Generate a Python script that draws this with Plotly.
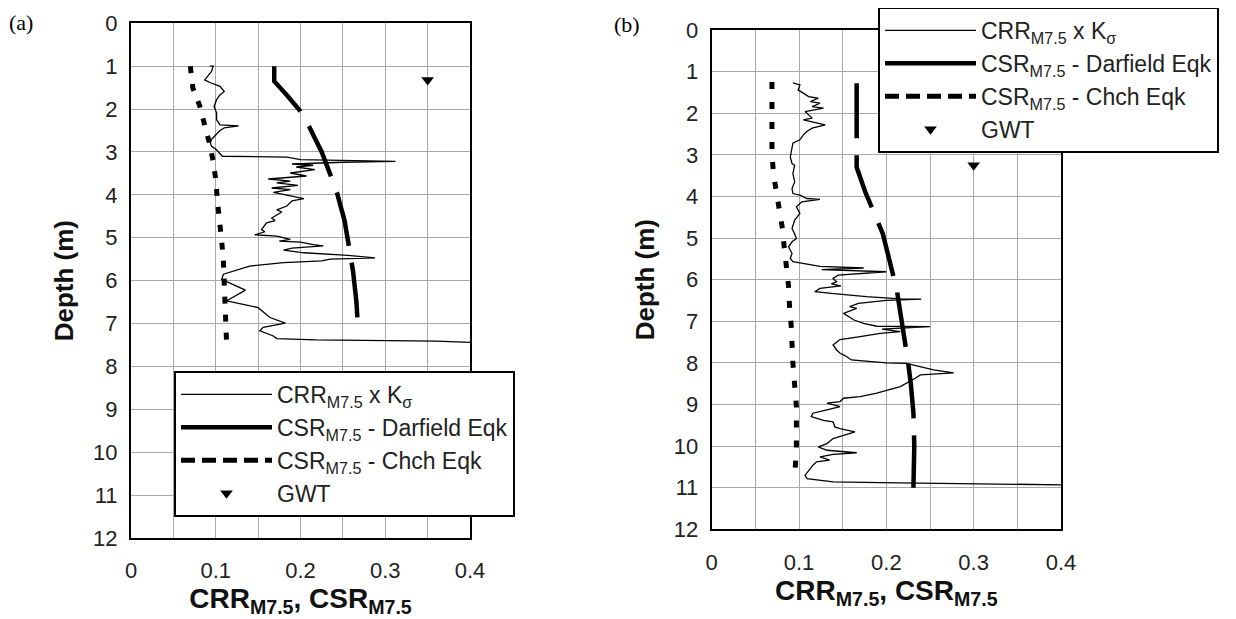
import plotly.graph_objects as go

# ---------------- data ----------------
# Panel (a)
a_crr_x = [0.093, 0.097, 0.095, 0.090, 0.087, 0.093, 0.105, 0.110, 0.105, 0.101, 0.098, 0.101, 0.101, 0.105,
           0.127, 0.110, 0.105, 0.101, 0.097, 0.093, 0.095, 0.101, 0.105, 0.108, 0.184, 0.200, 0.312, 0.250,
           0.190, 0.215, 0.195, 0.217, 0.188, 0.207, 0.162, 0.188, 0.172, 0.197, 0.166, 0.188, 0.168, 0.204,
           0.190, 0.184, 0.172, 0.178, 0.166, 0.170, 0.160, 0.154, 0.158, 0.146, 0.172, 0.188, 0.175, 0.200,
           0.215, 0.227, 0.190, 0.180, 0.204, 0.256, 0.288, 0.235, 0.225, 0.180, 0.140, 0.121, 0.109, 0.107,
           0.135, 0.113, 0.150, 0.164, 0.182, 0.156, 0.152, 0.168, 0.172, 0.218, 0.360, 0.400]
a_crr_d = [1.00, 1.00, 1.12, 1.24, 1.32, 1.38, 1.47, 1.59, 1.67, 1.78, 1.94, 2.09, 2.25, 2.37,
           2.39, 2.44, 2.50, 2.58, 2.67, 2.75, 2.87, 2.95, 3.04, 3.10, 3.12, 3.18, 3.22, 3.24,
           3.28, 3.31, 3.35, 3.41, 3.49, 3.56, 3.63, 3.68, 3.72, 3.78, 3.84, 3.88, 3.94, 4.09,
           4.14, 4.26, 4.35, 4.40, 4.54, 4.60, 4.65, 4.81, 4.86, 4.93, 4.96, 5.04, 5.08, 5.10,
           5.16, 5.19, 5.24, 5.29, 5.35, 5.41, 5.47, 5.50, 5.54, 5.58, 5.66, 5.78, 5.85, 5.97,
           6.22, 6.47, 6.63, 6.86, 6.99, 7.09, 7.17, 7.29, 7.35, 7.38, 7.41, 7.44]
a_dar_x = [0.169, 0.169, 0.185, 0.200, 0.210, 0.225, 0.236, 0.243, 0.252, 0.259, 0.262, 0.266, 0.268]
a_dar_d = [1.00, 1.35, 1.70, 2.05, 2.40, 3.00, 3.57, 3.95, 4.60, 5.35, 5.78, 6.50, 7.17]
a_chc_x = [0.070, 0.073, 0.081, 0.087, 0.092, 0.097, 0.100, 0.102, 0.105, 0.107, 0.109, 0.110, 0.111, 0.112, 0.113]
a_chc_d = [1.00, 1.51, 1.92, 2.34, 2.75, 3.22, 3.64, 4.15, 4.61, 5.08, 5.54, 6.09, 6.55, 7.05, 7.56]
a_gwt_x = [0.35]
a_gwt_d = [1.32]

# Panel (b)
b_crr_x = [0.093, 0.101, 0.099, 0.105, 0.111, 0.122, 0.113, 0.124, 0.115, 0.128, 0.107, 0.111, 0.115, 0.105,
           0.124, 0.130, 0.115, 0.109, 0.105, 0.101, 0.093, 0.092, 0.090, 0.092, 0.095, 0.093, 0.095, 0.092,
           0.093, 0.101, 0.109, 0.124, 0.103, 0.097, 0.101, 0.095, 0.092, 0.095, 0.097, 0.092, 0.088, 0.092,
           0.090, 0.093, 0.101, 0.124, 0.174, 0.126, 0.200, 0.145, 0.139, 0.143, 0.137, 0.148, 0.124, 0.118,
           0.137, 0.158, 0.177, 0.216, 0.240, 0.200, 0.168, 0.158, 0.166, 0.151, 0.157, 0.163, 0.174, 0.189,
           0.250, 0.195, 0.216, 0.193, 0.170, 0.147, 0.139, 0.143, 0.147, 0.153, 0.160, 0.200, 0.223, 0.254,
           0.277, 0.239, 0.233, 0.216, 0.189, 0.170, 0.151, 0.147, 0.132, 0.147, 0.132, 0.116, 0.114, 0.128,
           0.139, 0.141, 0.147, 0.164, 0.151, 0.139, 0.132, 0.122, 0.132, 0.166, 0.139, 0.124, 0.135, 0.120,
           0.116, 0.112, 0.107, 0.109, 0.139, 0.193, 0.334, 0.400]
b_crr_d = [1.27, 1.32, 1.44, 1.52, 1.60, 1.64, 1.72, 1.76, 1.84, 1.88, 1.96, 2.04, 2.12, 2.16,
           2.24, 2.28, 2.36, 2.44, 2.52, 2.64, 2.72, 2.84, 3.05, 3.21, 3.25, 3.45, 3.65, 3.81,
           3.93, 3.97, 4.05, 4.07, 4.13, 4.25, 4.41, 4.57, 4.77, 4.90, 5.01, 5.09, 5.21, 5.37,
           5.49, 5.57, 5.60, 5.68, 5.72, 5.76, 5.81, 5.89, 5.97, 6.05, 6.10, 6.15, 6.21, 6.29,
           6.33, 6.37, 6.41, 6.46, 6.47, 6.50, 6.57, 6.65, 6.69, 6.81, 6.89, 6.97, 7.05, 7.12,
           7.13, 7.19, 7.25, 7.29, 7.37, 7.44, 7.57, 7.69, 7.77, 7.83, 7.93, 8.00, 8.01, 8.17,
           8.24, 8.29, 8.37, 8.57, 8.73, 8.81, 8.85, 8.93, 8.97, 9.05, 9.13, 9.21, 9.29, 9.38,
           9.42, 9.54, 9.58, 9.66, 9.74, 9.82, 9.94, 10.02, 10.10, 10.16, 10.20, 10.26, 10.34, 10.38,
           10.46, 10.58, 10.70, 10.78, 10.86, 10.88, 10.91, 10.93]
b_dar_x = [0.166, 0.166, 0.176, 0.188, 0.196, 0.212, 0.218, 0.225, 0.228, 0.231, 0.232, 0.231]
b_dar_d = [1.28, 3.30, 3.90, 4.50, 4.90, 6.25, 7.00, 8.00, 8.50, 9.20, 10.00, 11.00]
b_chc_x = [0.069, 0.069, 0.069, 0.071, 0.074, 0.078, 0.081, 0.083, 0.086, 0.088, 0.089, 0.091, 0.093, 0.095,
           0.097, 0.097, 0.097, 0.095]
b_chc_d = [1.25, 2.00, 3.00, 3.50, 3.85, 4.29, 4.77, 5.21, 5.69, 6.15, 6.61, 7.09, 8.01, 8.53,
           9.05, 9.58, 10.06, 10.75]
b_gwt_x = [0.30]
b_gwt_d = [3.25]

x_ticks = [0, 0.1, 0.2, 0.3, 0.4]
x_tick_text = ["0", "0.1", "0.2", "0.3", "0.4"]
y_ticks = list(range(0, 13))

names = ["CRR<sub>M7.5</sub> x K<sub>σ</sub>",
         "CSR<sub>M7.5</sub> - Darfield Eqk",
         "CSR<sub>M7.5</sub> - Chch Eqk",
         "GWT"]

# ---------------- figure ----------------
# the page body adds an 8px margin, so the figure is 8px smaller and coordinates are shifted
OFF = 8
W, H = 1236 - OFF, 619 - OFF


def px(x):
    return (x - OFF) / W


def py(y):
    return 1 - (y - OFF) / H


fig = go.Figure()

panels = [
    dict(xa="x", ya="y", leg="legend", crr=(a_crr_x, a_crr_d), dar=(a_dar_x, a_dar_d),
         chc=(a_chc_x, a_chc_d), gwt=(a_gwt_x, a_gwt_d), chc_dash="7px,11px"),
    dict(xa="x2", ya="y2", leg="legend2", crr=(b_crr_x, b_crr_d), dar=(b_dar_x, b_dar_d),
         chc=(b_chc_x, b_chc_d), gwt=(b_gwt_x, b_gwt_d), chc_dash="7px,13px"),
]

for p in panels:
    fig.add_trace(go.Scatter(x=p["crr"][0], y=p["crr"][1], mode="lines", xaxis=p["xa"], yaxis=p["ya"],
                             line=dict(color="black", width=1.3), showlegend=False))
    fig.add_trace(go.Scatter(x=p["dar"][0], y=p["dar"][1], mode="lines", xaxis=p["xa"], yaxis=p["ya"],
                             line=dict(color="black", width=4.5, dash="55px,17px"), showlegend=False))
    fig.add_trace(go.Scatter(x=p["chc"][0], y=p["chc"][1], mode="lines", xaxis=p["xa"], yaxis=p["ya"],
                             line=dict(color="black", width=5, dash=p["chc_dash"]), showlegend=False))
    fig.add_trace(go.Scatter(x=p["gwt"][0], y=p["gwt"][1], mode="markers", xaxis=p["xa"], yaxis=p["ya"],
                             marker=dict(symbol="triangle-down", size=11, color="black"), showlegend=False))
    # legend entries
    fig.add_trace(go.Scatter(x=[None], y=[None], mode="lines", name=names[0], legend=p["leg"],
                             xaxis=p["xa"], yaxis=p["ya"], line=dict(color="black", width=1.3)))
    fig.add_trace(go.Scatter(x=[None], y=[None], mode="lines", name=names[1], legend=p["leg"],
                             xaxis=p["xa"], yaxis=p["ya"], line=dict(color="black", width=4.5)))
    fig.add_trace(go.Scatter(x=[None], y=[None], mode="lines", name=names[2], legend=p["leg"],
                             xaxis=p["xa"], yaxis=p["ya"], line=dict(color="black", width=5, dash="14px,7px")))
    fig.add_trace(go.Scatter(x=[None], y=[None], mode="markers", name=names[3], legend=p["leg"],
                             xaxis=p["xa"], yaxis=p["ya"],
                             marker=dict(symbol="triangle-down", size=11, color="black")))

tick_font = dict(family="Liberation Sans, Arial, sans-serif", size=22, color="#222222")
title_font = dict(family="Liberation Sans, Arial, sans-serif", size=26, color="#111111")
xtitle_font = dict(family="Liberation Sans, Arial, sans-serif", size=28, color="#111111")
x_title = "<b>CRR<sub>M7.5</sub>, CSR<sub>M7.5</sub></b>"


def xaxis(domain, anchor):
    return dict(domain=domain, anchor=anchor, range=[0, 0.4], tickvals=x_ticks, ticktext=x_tick_text,
                automargin=False,
                showgrid=True, gridcolor="#a8a8a8", gridwidth=1, zeroline=False,
                minor=dict(dtick=0.05, tick0=0, showgrid=True, gridcolor="#a8a8a8", gridwidth=1),
                showline=True, linecolor="black", linewidth=2, mirror=True, ticks="",
                ticklabelstandoff=12, tickfont=tick_font,
                title=dict(text=x_title, font=xtitle_font, standoff=5))


def yaxis(domain, anchor):
    return dict(domain=domain, anchor=anchor, range=[12, 0], tickvals=y_ticks,
                automargin=False,
                showgrid=True, gridcolor="#a8a8a8", gridwidth=1, zeroline=False,
                showline=True, linecolor="black", linewidth=2, mirror=True, ticks="",
                ticklabelstandoff=7, tickfont=tick_font,
                title=dict(text="<b>Depth (m)</b>", font=title_font, standoff=12))


leg_font = dict(family="Liberation Sans, Arial, sans-serif", size=23, color="#222222")

fig.update_layout(
    width=W, height=H, margin=dict(l=0, r=0, t=0, b=0, autoexpand=False),
    paper_bgcolor="white", plot_bgcolor="white",
    xaxis=xaxis([px(131), px(470)], "y"),
    yaxis=yaxis([py(538), py(23.3)], "x"),
    xaxis2=xaxis([px(711.7), px(1061)], "y2"),
    yaxis2=yaxis([py(529.3), py(30)], "x2"),
    legend=dict(x=px(174), y=py(371), xanchor="left", yanchor="top", bgcolor="white",
                bordercolor="black", borderwidth=2, font=leg_font, itemwidth=91, tracegroupgap=0),
    legend2=dict(x=px(878), y=py(7), xanchor="left", yanchor="top", bgcolor="white",
                 bordercolor="black", borderwidth=2, font=leg_font, itemwidth=91, tracegroupgap=0),
    annotations=[
        dict(text="(a)", x=px(7), y=py(23), xref="paper", yref="paper", xanchor="left", yanchor="middle",
             showarrow=False, font=dict(family="Liberation Serif, Times New Roman, serif", size=22, color="black")),
        dict(text="(b)", x=px(612), y=py(24), xref="paper", yref="paper", xanchor="left", yanchor="middle",
             showarrow=False, font=dict(family="Liberation Serif, Times New Roman, serif", size=22, color="black")),
    ],
)

fig.write_html("out.html")
